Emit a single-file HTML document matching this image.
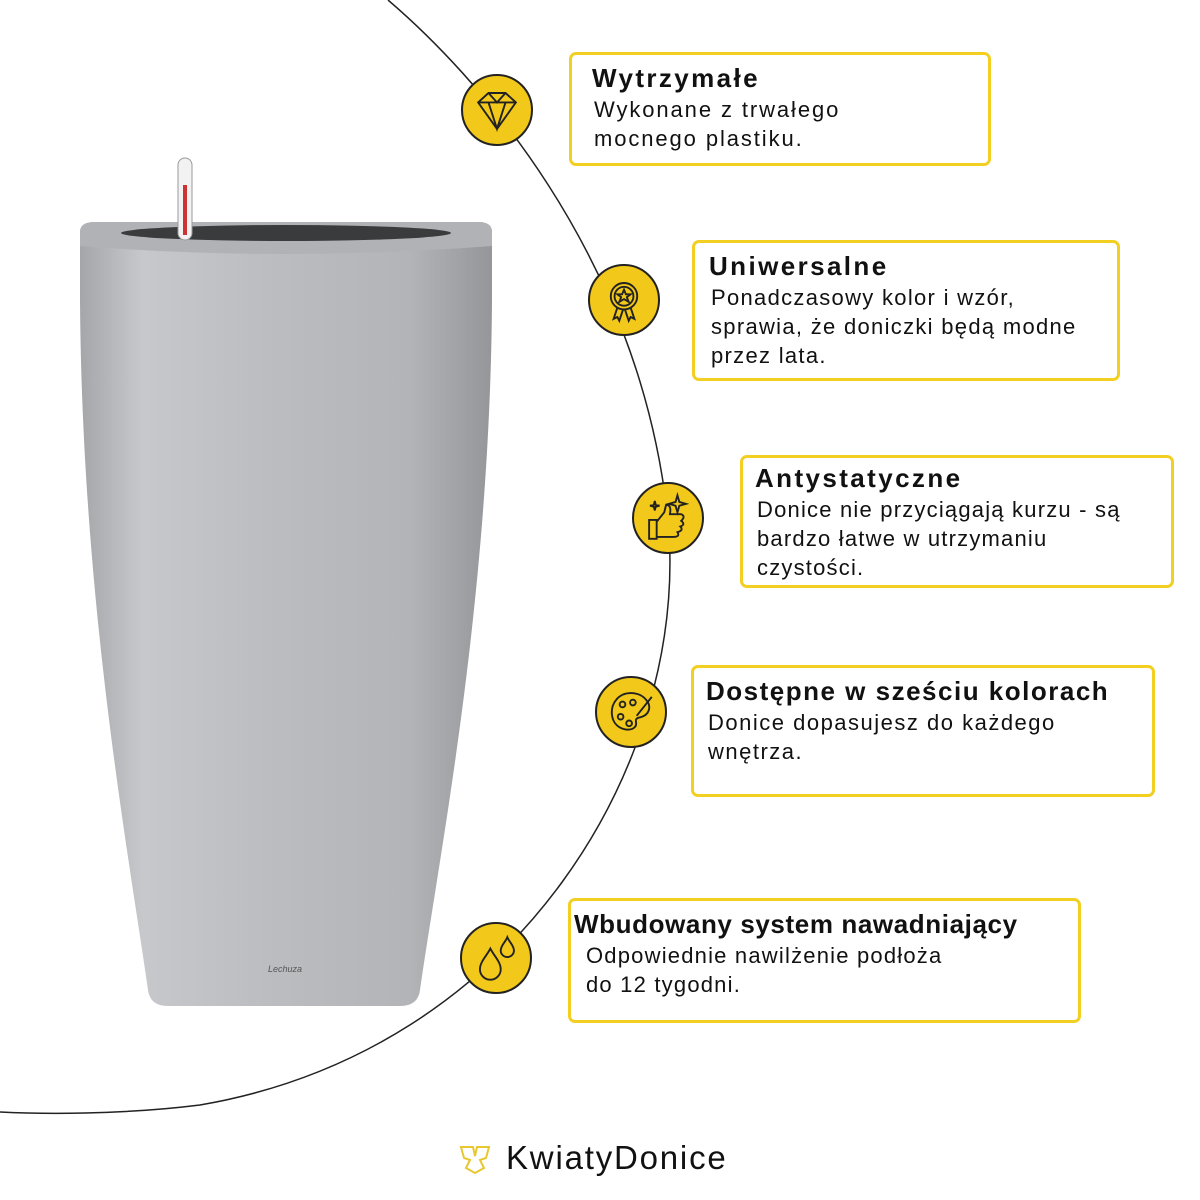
<!DOCTYPE html>
<html><head><meta charset="utf-8"><style>
body{margin:0;width:1200px;height:1200px;background:#fff;position:relative;overflow:hidden;font-family:"Liberation Sans",sans-serif;color:#111}
.box{position:absolute;border:3px solid #f3cf22;border-radius:7px;background:#fff;box-sizing:border-box;padding:8px 20px;white-space:nowrap}
.box b{display:block;font-size:26px;line-height:30px;font-weight:bold;letter-spacing:2.4px}
.box p{margin:2px 0 0 2px;font-size:22px;line-height:29px;letter-spacing:1.9px}
.ic{position:absolute;width:72px;height:72px;border-radius:50%;background:#f2c81a;border:2px solid #222;box-sizing:border-box}
.ic svg{width:100%;height:100%}
</style></head><body>
<svg width="1200" height="1200" style="position:absolute;left:0;top:0">
<path d="M388,0 C470,70 640,250 668,520 C690,760 520,1050 200,1105 C120,1115 40,1114 0,1112" fill="none" stroke="#222" stroke-width="1.5"/>
<defs>
<linearGradient id="g" x1="0" x2="1" y1="0" y2="0">
<stop offset="0" stop-color="#a4a6a9"/><stop offset="0.15" stop-color="#c6c8cb"/><stop offset="0.45" stop-color="#bbbdc0"/><stop offset="0.8" stop-color="#b2b4b7"/><stop offset="1" stop-color="#94969a"/>
</linearGradient>
</defs>
<path d="M80,232 Q80,222 95,222 L478,222 Q492,222 492,232 L492,300 C490,600 440,850 420,990 Q418,1006 400,1006 L168,1006 Q150,1006 148,990 C128,850 82,600 80,300 Z" fill="url(#g)"/>
<path d="M80,232 Q80,222 95,222 L478,222 Q492,222 492,232 L492,246 Q286,262 80,246 Z" fill="#b0b2b5"/>
<ellipse cx="286" cy="233" rx="165" ry="8" fill="#3a3b3d"/>
<rect x="178" y="158" width="14" height="82" rx="7" fill="#f2f2f2" stroke="#999"/>
<rect x="183" y="185" width="4" height="50" fill="#c33"/>
<text x="285" y="972" font-size="9" fill="#555" text-anchor="middle" font-style="italic">Lechuza</text>
</svg>

<div class="ic" style="left:461px;top:74px"><svg viewBox="0 0 72 72"><g fill="none" stroke="#222" stroke-width="2"><path d="M16,28 L27,18 L45,18 L56,28 L36,56 Z M16,28 H56 M27,18 L36,28 L45,18 M27,28 L36,56 L45,28"/></g></svg></div>
<div class="ic" style="left:588px;top:264px"><svg viewBox="0 0 72 72"><g fill="none" stroke="#222" stroke-width="2"><circle cx="36" cy="32" r="14"/><circle cx="36" cy="32" r="10"/><path d="M36,25 L38,30 L43,30 L39,33 L41,38 L36,35 L31,38 L33,33 L29,30 L34,30 Z"/><path d="M29,44 L25,56 L29,54 L31,58 L35,46 M43,44 L47,56 L43,54 L41,58 L37,46"/></g></svg></div>
<div class="ic" style="left:632px;top:482px"><svg viewBox="0 0 72 72"><g fill="none" stroke="#222" stroke-width="2"><path d="M16,38 H24 V58 H16 Z M24,40 L32,30 L34,22 Q40,22 38,32 L50,32 Q55,34 50,39 Q55,43 49,45 Q53,49 46,51 Q49,56 42,56 H24"/><path d="M46,12 L48,19 L55,21 L48,23 L46,30 L44,23 L37,21 L44,19 Z"/><path d="M22,18 L23,22 L27,23 L23,24 L22,28 L21,24 L17,23 L21,22 Z"/></g></svg></div>
<div class="ic" style="left:595px;top:676px"><svg viewBox="0 0 72 72"><g fill="none" stroke="#222" stroke-width="2"><path d="M36,16 C22,16 14,28 16,40 C18,54 34,58 40,52 C44,48 38,44 44,42 C56,40 58,30 52,23 C48,18 42,16 36,16 Z"/><circle cx="27" cy="28" r="3"/><circle cx="25" cy="41" r="3"/><circle cx="34" cy="48" r="3"/><circle cx="38" cy="26" r="3"/><path d="M42,40 L58,20"/></g></svg></div>
<div class="ic" style="left:460px;top:922px"><svg viewBox="0 0 72 72"><g fill="none" stroke="#222" stroke-width="2"><path d="M30,26 C26,34 19,40 19,48 A11,11 0 0 0 41,48 C41,40 34,34 30,26 Z"/><path d="M48,14 C46,19 41,23 41,28 A7,7 0 0 0 55,28 C55,23 50,19 48,14 Z"/></g></svg></div>

<div class="box" style="left:569px;top:52px;width:422px;height:114px"><b>Wytrzymałe</b><p>Wykonane z trwałego<br>mocnego plastiku.</p></div>
<div class="box" style="left:692px;top:240px;width:428px;height:141px;padding-left:14px"><b>Uniwersalne</b><p style="letter-spacing:1.3px">Ponadczasowy kolor i wzór,<br>sprawia, że doniczki będą modne<br>przez lata.</p></div>
<div class="box" style="left:740px;top:455px;width:434px;height:133px;padding-top:5px;padding-left:12px"><b>Antystatyczne</b><p style="letter-spacing:1.2px">Donice nie przyciągają kurzu - są<br>bardzo łatwe w utrzymaniu<br>czystości.</p></div>
<div class="box" style="left:691px;top:665px;width:464px;height:132px;padding-left:12px"><b style="letter-spacing:1.5px">Dostępne w sześciu kolorach</b><p style="letter-spacing:1.5px">Donice dopasujesz do każdego<br>wnętrza.</p></div>
<div class="box" style="left:568px;top:898px;width:513px;height:125px;padding-left:3px"><b style="letter-spacing:0.6px">Wbudowany system nawadniający</b><p style="margin-left:12px;letter-spacing:1.2px">Odpowiednie nawilżenie podłoża<br>do 12 tygodni.</p></div>

<svg style="position:absolute;left:458px;top:1144px" width="34" height="32" viewBox="0 0 34 32"><g fill="none" stroke="#e8c830" stroke-width="2"><path d="M3,3 L15,3 L17,12 L19,3 L31,3 L28,14 L22,16 L26,24 L17,29 L8,24 L12,16 L6,14 Z"/></g></svg>
<div style="position:absolute;left:506px;top:1139px;font-size:33px;color:#111;letter-spacing:1.8px">KwiatyDonice</div>
</body></html>
